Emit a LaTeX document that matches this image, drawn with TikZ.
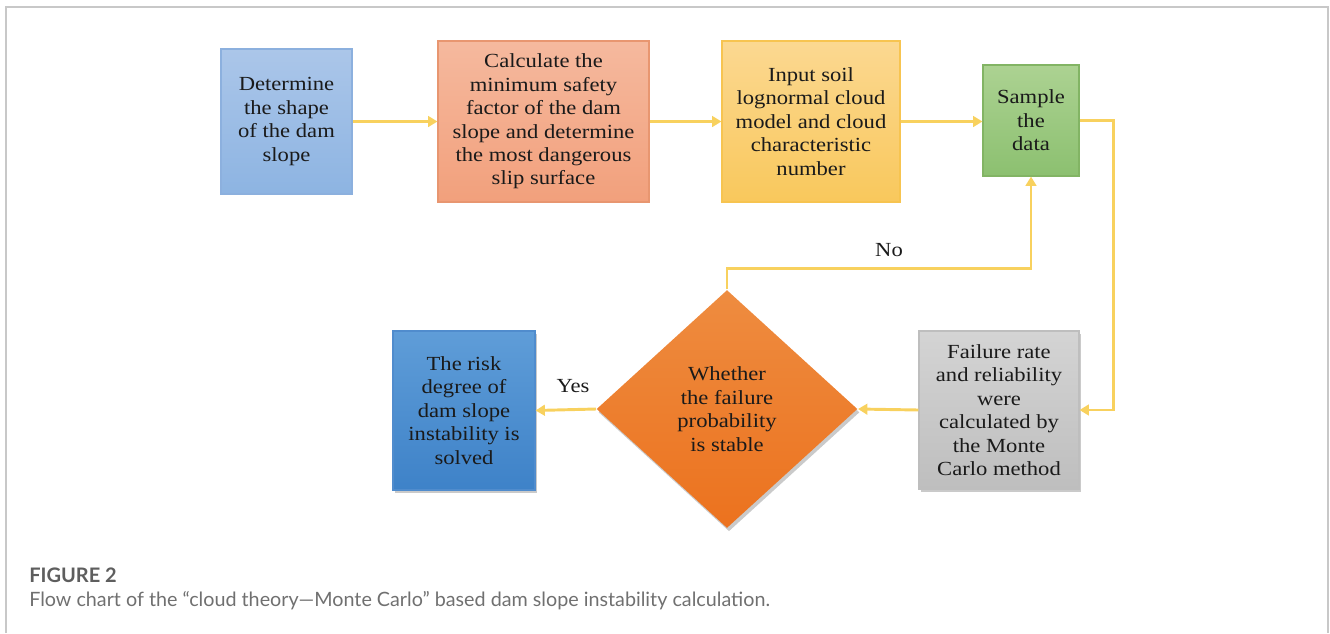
\documentclass[tikz,border=0pt]{standalone}
\usepackage{fontspec}
\setmainfont{Liberation Serif}
\newfontfamily\boxfont[FakeStretch=1.13]{Liberation Serif}
\newfontfamily\capfont{Lato}
\usetikzlibrary{arrows.meta,shapes.geometric,shadows}
\definecolor{arrowc}{HTML}{F8D15E}
\definecolor{framec}{HTML}{C8C8C8}
\definecolor{capgray}{HTML}{707070}
\definecolor{figgray}{HTML}{5E5E5E}
\definecolor{txt}{HTML}{1A1A1A}
\begin{document}
\begin{tikzpicture}[x=0.75pt,y=-0.75pt,
  box/.style={draw, line width=0.8pt, align=center, inner sep=0pt, text=txt,
    font=\boxfont\fontsize{15}{17.6}\selectfont},
  conn/.style={draw=arrowc, line width=2.2pt, -{Triangle[length=7pt,width=8pt]}},
  lbl/.style={font=\boxfont\fontsize{15}{17.6}\selectfont, text=txt, inner sep=0pt},
  shad/.style={drop shadow={shadow xshift=1.5pt, shadow yshift=-2.5pt, opacity=0.35, fill=black!60}}
]
\useasboundingbox (0,0) rectangle (1330,633);
% frame
\draw[framec, line width=1.2pt] (6,633) -- (6,7) -- (1328,7) -- (1328,633);

% nodes
\node[box, draw={rgb,255:red,140;green,176;blue,222}, top color={rgb,255:red,171;green,198;blue,233}, bottom color={rgb,255:red,141;green,180;blue,226},
  minimum width=98.25pt, minimum height=108.75pt] (b1) at (286.5,121.5)
  {Determine\\the shape\\of the dam\\slope};
\node[box, draw={rgb,255:red,232;green,150;blue,112}, top color={rgb,255:red,245;green,185;blue,158}, bottom color={rgb,255:red,242;green,160;blue,124},
  minimum width=158.25pt, minimum height=120.75pt] (b2) at (543.5,121.5)
  {Calculate the\\minimum safety\\factor of the dam\\slope and determine\\the most dangerous\\slip surface};
\node[box, draw={rgb,255:red,247;green,196;blue,80}, top color={rgb,255:red,251;green,216;blue,145}, bottom color={rgb,255:red,249;green,200;blue,92},
  minimum width=133.5pt, minimum height=120.75pt] (b3) at (811,121.5)
  {Input soil\\lognormal cloud\\model and cloud\\characteristic\\number};
\node[box, draw={rgb,255:red,130;green,180;blue,100}, top color={rgb,255:red,172;green,210;blue,146}, bottom color={rgb,255:red,140;green,192;blue,112},
  minimum width=72pt, minimum height=83.25pt] (g) at (1031,120.5)
  {Sample\\the\\data};
\node[box, draw={rgb,255:red,190;green,190;blue,190}, top color={rgb,255:red,212;green,212;blue,212}, bottom color={rgb,255:red,190;green,190;blue,190},
  shad, minimum width=120pt, minimum height=118.5pt] (gr) at (999,410)
  {Failure rate\\and reliability\\were\\calculated by\\the Monte\\Carlo method};
\node[box, shape=diamond, draw=none, top color={rgb,255:red,238;green,140;blue,64}, bottom color={rgb,255:red,236;green,114;blue,30},
  shad, aspect=1.1, minimum width=195.75pt, minimum height=178.5pt] (d) at (727,409)
  {Whether\\the failure\\probability\\is stable};
\node[box, draw={rgb,255:red,80;green,140;blue,205}, top color={rgb,255:red,95;green,157;blue,216}, bottom color={rgb,255:red,62;green,130;blue,200},
  shad, minimum width=106.5pt, minimum height=119.25pt] (b5) at (464,410.5)
  {The risk\\degree of\\dam slope\\instability\ is\\solved};

% connectors
\draw[conn] (b1.east) -- (b2.west);
\draw[conn] (b2.east) -- (b3.west);
\draw[conn] (b3.east) -- (b3.east -| g.west);
\draw[conn] (g.east) -- ++(34,0) |- (gr.east);
\draw[conn] (gr.west) -- (d.east);
\draw[conn] (d.west) -- (b5.east);
\draw[conn] (d.north) -- ++(0,-21) -| (g.south);

% labels
\node[lbl] (yes) at (573,386) {Yes};
\node[lbl] (no) at (889,250) {No};

% caption
\node[anchor=base west, inner sep=0pt, text=figgray, font=\capfont\bfseries\fontsize{15}{18}\selectfont] (fig) at (29,582) {FIGURE 2};
\node[anchor=base west, inner sep=0pt, text=capgray, font=\capfont\fontsize{14.8}{18}\selectfont] (cap) at (29,606)
  {Flow chart of the “cloud theory—Monte Carlo” based dam slope instability calculation.};
\end{tikzpicture}
\end{document}
